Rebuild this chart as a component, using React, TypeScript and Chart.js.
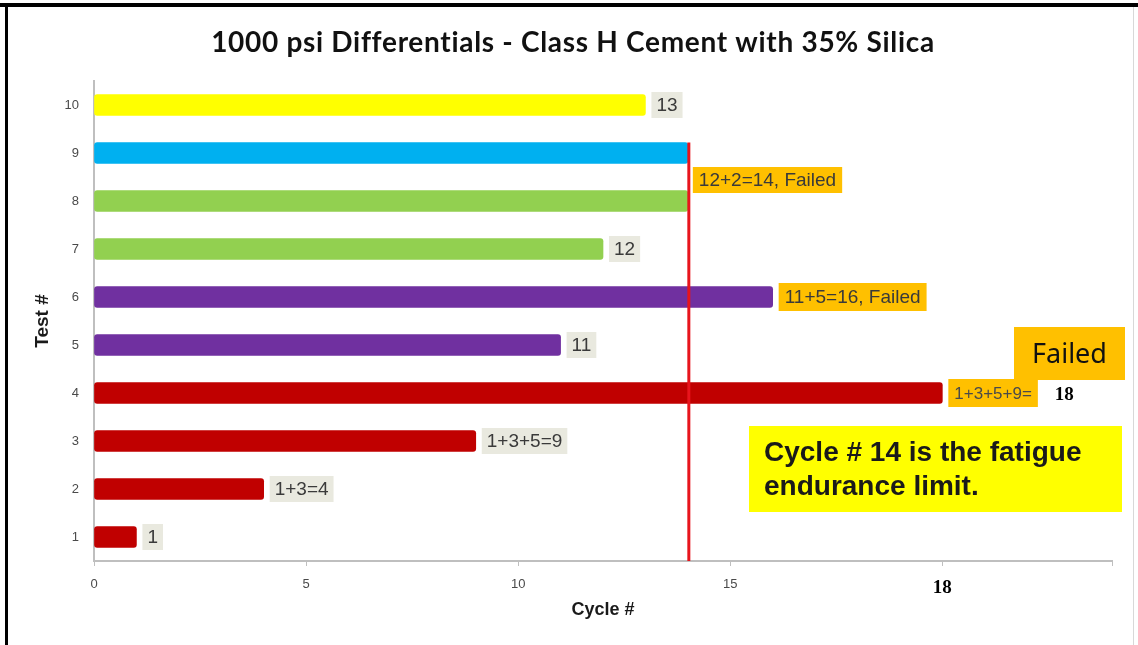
import React, { useEffect, useRef } from "react";
import { Chart, registerables } from "chart.js";

Chart.register(...registerables);

// ---------- data ----------
const categories = ["1", "2", "3", "4", "5", "6", "7", "8", "9", "10"];
const cycles = [1, 4, 9, 20, 11, 16, 12, 14, 14, 13];
const barColors = [
  "#C00000", "#C00000", "#C00000", "#C00000",
  "#7030A0", "#7030A0",
  "#92D050", "#92D050",
  "#00B0F0",
  "#FFFF00",
];
const barLabels = ["1", "1+3=4", "1+3+5=9", "1+3+5+9=", "11", "11+5=16, Failed", "12", "", "", "13"];
const barLabelKinds = ["plain", "plain", "plain", "failedSmall", "plain", "failed", "plain", "", "", "plain"];
const xTickLabels: Record<number, string> = { 0: "0", 5: "5", 10: "10", 15: "15", 20: "18" };
const enduranceLimit = 14;
const tests8and9Label = "12+2=14, Failed";
const test4Total = "18";
const failedCallout = "Failed";
const noteLines = ["Cycle # 14 is the fatigue", "endurance limit."];
const chartTitle = "1000 psi Differentials - Class H Cement with 35% Silica";

const W = 1138;
const H = 645;
const SANS = "'Liberation Sans', Arial, sans-serif";

function drawBoxLabel(ctx: CanvasRenderingContext2D, text: string, left: number, cy: number, bg: string, font: string, color: string, padX = 5, h = 26) {
  ctx.save();
  ctx.font = font;
  const tw = ctx.measureText(text).width;
  ctx.fillStyle = bg;
  ctx.fillRect(left, cy - h / 2, tw + padX * 2, h);
  ctx.fillStyle = color;
  ctx.textBaseline = "middle";
  ctx.textAlign = "left";
  ctx.fillText(text, left + padX, cy + 1);
  ctx.restore();
  return left + tw + padX * 2;
}

const annotationPlugin = {
  id: "annotations",
  beforeDraw(chart: any) {
    const ctx = chart.ctx as CanvasRenderingContext2D;
    ctx.save();
    ctx.fillStyle = "#ffffff";
    ctx.fillRect(0, 0, W, H);
    ctx.fillStyle = "#000000";
    ctx.fillRect(0, 3, W, 4);
    ctx.fillRect(5, 3, 3, H - 3);
    ctx.fillStyle = "#D8D8D8";
    ctx.fillRect(1133, 7, 1, H - 7);
    ctx.restore();
  },
  afterDatasetsDraw(chart: any) {
    const ctx = chart.ctx as CanvasRenderingContext2D;
    const meta = chart.getDatasetMeta(0);
    const xs = chart.scales.x;
    const area = chart.chartArea;

    // endurance limit line
    const lx = xs.getPixelForValue(enduranceLimit);
    const bar9 = meta.data[8];
    ctx.save();
    ctx.strokeStyle = "#E8141C";
    ctx.lineWidth = 3;
    ctx.beginPath();
    ctx.moveTo(lx + 1, bar9.y - bar9.height / 2);
    ctx.lineTo(lx + 1, area.bottom);
    ctx.stroke();
    ctx.restore();

    const labelFont = `19px ${SANS}`;
    // per-bar labels
    barLabels.forEach((txt, i) => {
      if (!txt) return;
      const el = meta.data[i];
      const kind = barLabelKinds[i];
      const left = el.x + 6;
      if (kind === "plain") {
        drawBoxLabel(ctx, txt, left, el.y, "#E9E9DF", labelFont, "#3A3A3A");
      } else if (kind === "failed") {
        drawBoxLabel(ctx, txt, left, el.y, "#FFC000", labelFont, "#3A3A3A", 6, 28);
      } else if (kind === "failedSmall") {
        const right = drawBoxLabel(ctx, txt, left, el.y, "#FFC000", `17px ${SANS}`, "#4A4A4A", 6, 28);
        ctx.save();
        ctx.font = `bold 19px 'Liberation Serif', 'Times New Roman', serif`;
        ctx.fillStyle = "#000000";
        ctx.textBaseline = "middle";
        ctx.fillText(test4Total, right + 17, el.y + 2);
        ctx.restore();
        // "Failed" callout
        ctx.save();
        ctx.fillStyle = "#FFC000";
        ctx.fillRect(1014, 327, 111, 53);
        ctx.font = `27px 'Noto Sans', sans-serif`;
        ctx.fillStyle = "#111111";
        ctx.textBaseline = "middle";
        ctx.fillText(failedCallout, 1032, 355);
        ctx.restore();
      }
    });

    // shared label between tests 8 and 9
    const b8 = meta.data[7];
    const midY = (b8.y + bar9.y) / 2;
    drawBoxLabel(ctx, tests8and9Label, lx + 5, midY + 3, "#FFC000", labelFont, "#3A3A3A", 6, 26);

    // note box
    ctx.save();
    ctx.fillStyle = "#FFFF00";
    ctx.fillRect(749, 426, 373, 86);
    ctx.fillStyle = "#1A1A1A";
    ctx.font = `bold 28px ${SANS}`;
    ctx.textBaseline = "middle";
    ctx.fillText(noteLines[0], 764, 453);
    ctx.fillText(noteLines[1], 764, 487);
    ctx.restore();
  },
  afterDraw(chart: any) {
    const ctx = chart.ctx as CanvasRenderingContext2D;
    ctx.save();
    ctx.font = `bold 28px Lato, 'Open Sans', sans-serif`;
    (ctx as any).letterSpacing = "0.7px";
    ctx.fillStyle = "#111111";
    ctx.textAlign = "center";
    ctx.textBaseline = "middle";
    ctx.fillText(chartTitle, 573, 43);
    ctx.restore();
  },
};

export default function App() {
  const canvasRef = useRef<HTMLCanvasElement | null>(null);

  useEffect(() => {
    if (!canvasRef.current) return;
    const chart = new Chart(canvasRef.current, {
      type: "bar",
      data: {
        labels: categories,
        datasets: [
          {
            data: cycles,
            backgroundColor: barColors,
            borderWidth: 0,
            borderRadius: 3,
            borderSkipped: false,
            barThickness: 21,
          },
        ],
      },
      options: {
        indexAxis: "y",
        responsive: false,
        animation: false,
        layout: { padding: { left: 0, right: 26, top: 81, bottom: 0 } },
        plugins: {
          legend: { display: false },
          tooltip: { enabled: false },
          title: { display: false },
        },
        scales: {
          x: {
            type: "linear",
            min: 0,
            max: 24,
            ticks: {
              stepSize: 5,
              padding: 11,
              maxRotation: 0,
              callback: (v: any) => xTickLabels[v as number] ?? "",
              color: (c: any) => (c.tick && c.tick.value === 20 ? "#000000" : "#4A4A4A"),
              font: (c: any) =>
                c.tick && c.tick.value === 20
                  ? { family: "'Liberation Serif', 'Times New Roman', serif", size: 19, weight: "bold" }
                  : { family: SANS, size: 13 },
            },
            grid: { drawOnChartArea: false, drawTicks: true, tickLength: 5, tickColor: "#BFBFBF" },
            border: { color: "#BFBFBF", width: 2 },
            title: {
              display: true,
              text: "Cycle #",
              color: "#1A1A1A",
              font: { family: SANS, size: 18, weight: "bold" },
              padding: { top: 0, bottom: 24 },
            },
            afterFit: (s: any) => {
              s.height = 84;
            },
          },
          y: {
            type: "category",
            reverse: true,
            ticks: {
              padding: 15,
              color: "#4A4A4A",
              font: { family: SANS, size: 13 },
            },
            grid: { display: false, drawTicks: false },
            border: { color: "#BFBFBF", width: 2 },
            title: {
              display: true,
              text: "Test #",
              color: "#1A1A1A",
              font: { family: SANS, size: 19, weight: "bold" },
              padding: { top: 31, bottom: 0 },
            },
            afterFit: (s: any) => {
              s.width = 94;
            },
          },
        },
      },
      plugins: [annotationPlugin],
    });
    return () => chart.destroy();
  }, []);

  return (
    <div style={{ position: "fixed", left: 0, top: 0, width: W, height: H }}>
      <canvas ref={canvasRef} width={W} height={H} style={{ display: "block", width: W, height: H }} />
    </div>
  );
}
